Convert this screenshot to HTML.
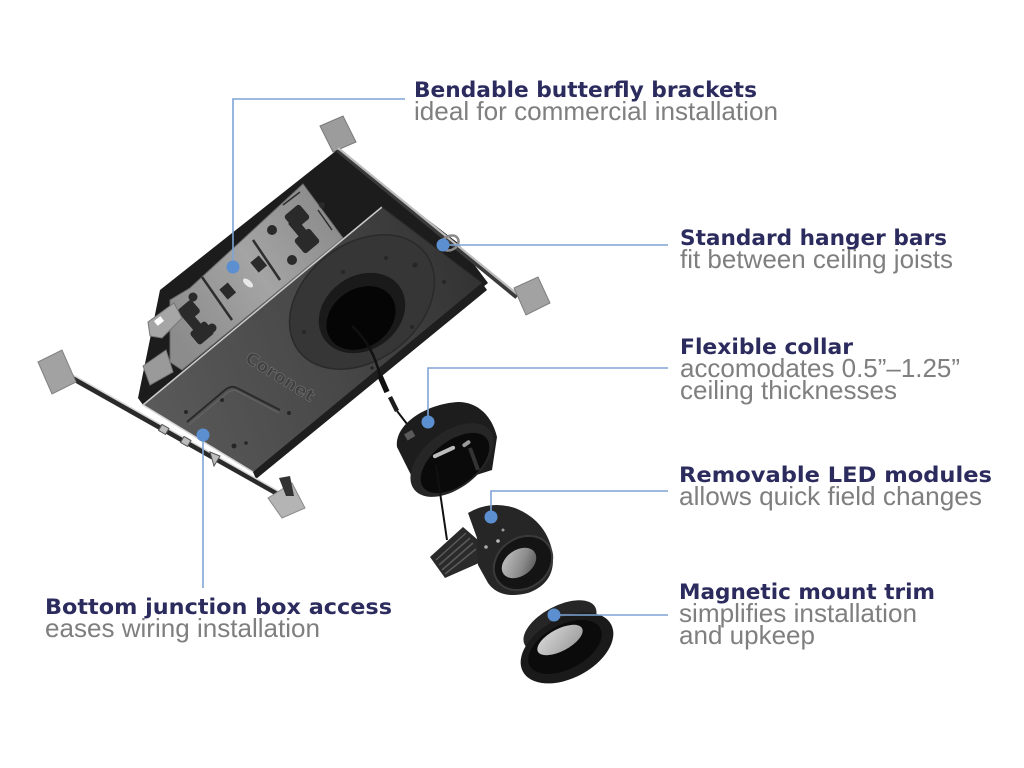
<!DOCTYPE html>
<html><head><meta charset="utf-8">
<style>
html,body{margin:0;padding:0;background:#fff;}
svg{display:block;}
.t{font-family:"DejaVu Sans","Liberation Sans",sans-serif;font-weight:bold;font-size:21px;fill:#2c2b5e;}
.s{font-family:"Liberation Sans",Arial,sans-serif;font-size:26px;fill:#7f7f7f;}
</style></head><body>
<svg width="1024" height="768" viewBox="0 0 1024 768" xmlns="http://www.w3.org/2000/svg">
<defs>
<linearGradient id="plate" x1="143" y1="405" x2="482" y2="283" gradientUnits="userSpaceOnUse">
<stop offset="0" stop-color="#5a5a5a"/><stop offset="0.55" stop-color="#474747"/><stop offset="1" stop-color="#333"/>
</linearGradient>
<linearGradient id="panel" x1="172" y1="330" x2="340" y2="210" gradientUnits="userSpaceOnUse">
<stop offset="0" stop-color="#8c8c8c"/><stop offset="0.5" stop-color="#a4a4a4"/><stop offset="1" stop-color="#8a8a8a"/>
</linearGradient>
<linearGradient id="lens" x1="0" y1="0" x2="1" y2="1">
<stop offset="0" stop-color="#c8c8c8"/><stop offset="0.6" stop-color="#8a8a8a"/><stop offset="1" stop-color="#4a4a4a"/>
</linearGradient>
<linearGradient id="lens2" x1="0" y1="0" x2="1" y2="1">
<stop offset="0" stop-color="#d8d8d8"/><stop offset="1" stop-color="#9a9a9a"/>
</linearGradient>
</defs>

<!-- top hanger bar tab (behind) -->
<polygon points="320,126 343,116 356,142 333,152" fill="#9c9c9c" stroke="#7a7a7a" stroke-width="1"/>

<!-- box back (black) -->
<polygon points="160,290 337,150 458,243 488,283 253,472 143,405 138,398" fill="#1c1c1c"/>

<!-- gray bracket panels -->
<polygon points="170,300 190,288 303,184 343,238 182,370 170,362" fill="url(#panel)" stroke="#6a6a6a" stroke-width="1"/>
<line x1="202" y1="277" x2="232" y2="320" stroke="#2e2e2e" stroke-width="2.5"/>
<line x1="253" y1="240" x2="280" y2="280" stroke="#2e2e2e" stroke-width="2.5"/>
<g fill="#2a2a2a">
<rect x="287" y="208" width="20" height="18" rx="3" transform="rotate(-40 297 217)"/>
<rect x="297" y="232" width="20" height="18" rx="3" transform="rotate(-40 307 241)"/>
<rect x="294" y="218" width="10" height="22" transform="rotate(-40 299 229)"/>
<circle cx="272" cy="230" r="5"/>
<circle cx="292" cy="260" r="5"/>
<circle cx="322" cy="205" r="3"/>
<rect x="253" y="258" width="11" height="13" transform="rotate(-40 258 264)"/>
<rect x="222" y="285" width="11" height="13" transform="rotate(-40 227 291)"/>
<rect x="180" y="303" width="18" height="16" rx="3" transform="rotate(-40 189 311)"/>
<rect x="192" y="325" width="20" height="16" rx="3" transform="rotate(-40 202 333)"/>
<rect x="188" y="312" width="10" height="20" transform="rotate(-40 193 322)"/>
<circle cx="193" cy="297" r="4.5"/>
<circle cx="212" cy="328" r="4.5"/>
</g>
<path d="M283,205 L300,192 M318,210 L332,230" stroke="#2e2e2e" stroke-width="1.5" fill="none"/>
<ellipse cx="248" cy="283" rx="6" ry="3" fill="#e8e8e8" transform="rotate(40 248 283)"/>
<!-- left bracket tabs -->
<polygon points="148,322 174,303 182,318 162,338 150,336" fill="#a6a6a6" stroke="#777" stroke-width="1"/>
<rect x="155" y="318" width="8" height="6" fill="#fff" transform="rotate(-38 159 321)"/>
<polygon points="143,366 166,350 173,372 150,385" fill="#9a9a9a" stroke="#777" stroke-width="1"/>

<!-- front plate -->
<polygon points="143,405 382,207 482,283 253,472" fill="url(#plate)"/>
<polygon points="482,283 253,472 256,479 487,290" fill="#1e1e1e"/>
<line x1="143" y1="405" x2="382" y2="207" stroke="#c9c9c9" stroke-width="1.6"/>
<line x1="382" y1="207" x2="482" y2="283" stroke="#2a2a2a" stroke-width="1.2"/>
<line x1="143" y1="405" x2="253" y2="472" stroke="#d4d4d4" stroke-width="1.5"/>

<!-- raised disc -->
<ellipse cx="362" cy="302" rx="80" ry="58" transform="rotate(-38 362 302)" fill="#363636" stroke="#2a2a2a" stroke-width="1.5"/>
<ellipse cx="362" cy="313" rx="46" ry="37" transform="rotate(-35 362 313)" fill="#1a1a1a"/>
<ellipse cx="361" cy="318" rx="37" ry="29" transform="rotate(-35 361 318)" fill="#050505"/>

<g fill="#262626">
<circle cx="415" cy="265" r="2.5"/><circle cx="444" cy="282" r="2"/><circle cx="304" cy="332" r="2"/>
<circle cx="343" cy="272" r="2"/><circle cx="412" cy="327" r="2"/><circle cx="222" cy="400" r="2"/>
<circle cx="234" cy="446" r="2.5"/><circle cx="246" cy="443" r="1.8"/><circle cx="289" cy="413" r="2"/>
<circle cx="186" cy="412" r="2"/><circle cx="372" cy="368" r="1.8"/><circle cx="386" cy="258" r="2"/>
</g>
<text x="0" y="0" transform="translate(244,361) rotate(32)" font-family="DejaVu Sans, sans-serif" font-weight="bold" font-size="17" textLength="78" lengthAdjust="spacingAndGlyphs" fill="#3f3f3f" stroke="#6c6c6c" stroke-width="0.7">Coronet</text>
<path d="M187,422 L225,390 Q231,385 237,388 L280,410" stroke="#2a2a2a" stroke-width="2" fill="none"/>
<path d="M189,425 L227,393 Q232,389 237,391 L279,413" stroke="#666" stroke-width="1" fill="none"/>

<!-- bottom hanger bar -->
<line x1="72" y1="378" x2="294" y2="503" stroke="#2a2a2a" stroke-width="5"/>
<line x1="73" y1="375" x2="294" y2="500" stroke="#d8d8d8" stroke-width="1.5"/>
<polygon points="38,362 62,350 76,382 52,394" fill="#a2a2a2" stroke="#808080" stroke-width="1"/>
<polygon points="268,498 292,483 305,508 282,518" fill="#b4b4b4" stroke="#8a8a8a" stroke-width="1"/>
<polygon points="279,478 290,476 294,496 286,496" fill="#333"/>
<g fill="#bcbcbc" stroke="#555" stroke-width="1">
<rect x="160" y="426" width="8" height="7" transform="rotate(30 164 429)"/>
<rect x="182" y="438" width="8" height="7" transform="rotate(30 186 441)"/>
<polygon points="210,452 220,456 214,466"/>
</g>

<!-- top hanger bar -->
<line x1="338" y1="150" x2="517" y2="297" stroke="#3a3a3a" stroke-width="5"/>
<line x1="338" y1="148" x2="517" y2="294" stroke="#bdbdbd" stroke-width="2.2"/>
<ellipse cx="450" cy="243" rx="9" ry="7" transform="rotate(-30 450 243)" fill="none" stroke="#8a8a8a" stroke-width="2.5"/>
<polygon points="514,288 538,277 550,303 526,315" fill="#a2a2a2" stroke="#7e7e7e" stroke-width="1"/>

<!-- wire -->
<path d="M352,326 Q373,345 380,376" stroke="#111" stroke-width="2.5" fill="none"/>
<line x1="380" y1="376" x2="387" y2="392" stroke="#111" stroke-width="5.5"/>
<line x1="390" y1="397" x2="397" y2="411" stroke="#1c1c1c" stroke-width="4.5"/>
<line x1="397" y1="411" x2="414" y2="433" stroke="#111" stroke-width="2"/>

<!-- collar -->
<path d="M397,447 C394,425 425,404 458,402 C478,402 492,416 497,437 L492,470 L420,493 Z" fill="#1d1d1d"/>
<ellipse cx="452" cy="460" rx="48" ry="28" transform="rotate(-38 452 460)" fill="#262626"/>
<ellipse cx="455" cy="463" rx="40" ry="22" transform="rotate(-38 455 463)" fill="#0a0a0a"/>
<rect x="432" y="450" width="24" height="4" rx="2" fill="#bdbdbd" transform="rotate(-25 444 452)"/>
<rect x="462" y="442" width="9" height="4" rx="2" fill="#9a9a9a" transform="rotate(-35 466 444)"/>
<rect x="405" y="432" width="9" height="7" fill="#5a5a5a" transform="rotate(-30 409 435)"/>
<line x1="470" y1="448" x2="478" y2="470" stroke="#333" stroke-width="4"/>
<line x1="436" y1="465" x2="447" y2="540" stroke="#111" stroke-width="2"/>

<!-- LED module -->
<polygon points="430,557 463,527 478,540 479,563 445,578" fill="#2a2a2a"/>
<g stroke="#5a5a5a" stroke-width="1.5">
<line x1="436" y1="560" x2="466" y2="533"/>
<line x1="439" y1="565" x2="470" y2="538"/>
<line x1="442" y1="570" x2="473" y2="543"/>
<line x1="445" y1="574" x2="476" y2="549"/>
</g>
<path d="M468,513 Q490,500 515,508 Q545,520 552,550 Q558,582 528,593 Q500,600 488,583 L478,565 L477,538 Z" fill="#262626"/>
<ellipse cx="523" cy="563" rx="31" ry="25" transform="rotate(-35 523 563)" fill="#141414" stroke="#3a3a3a" stroke-width="2"/>
<ellipse cx="519" cy="563" rx="19" ry="13" transform="rotate(-35 519 563)" fill="url(#lens)"/>
<circle cx="498" cy="541" r="1.8" fill="#bbb"/><circle cx="486" cy="547" r="1.8" fill="#aaa"/>
<circle cx="503" cy="530" r="1.5" fill="#999"/>

<!-- trim -->
<ellipse cx="560" cy="626" rx="40" ry="20" transform="rotate(-28 560 626)" fill="#262626"/>
<ellipse cx="567" cy="648" rx="50" ry="30" transform="rotate(-28 567 648)" fill="#1a1a1a"/>
<ellipse cx="565" cy="647" rx="40" ry="22" transform="rotate(-28 565 647)" fill="#0b0b0b"/>
<ellipse cx="560" cy="640" rx="25" ry="11" transform="rotate(-28 560 640)" fill="url(#lens2)"/>

<!-- callout lines -->
<g stroke="#7ea4d6" stroke-width="1.6" fill="none">
<polyline points="405,99 233,99 233,267"/>
<line x1="443" y1="245" x2="668" y2="245"/>
<polyline points="668,368 428,368 428,422"/>
<polyline points="668,491 491,491 491,517"/>
<line x1="554" y1="615" x2="668" y2="615"/>
<line x1="203" y1="435" x2="203" y2="588"/>
</g>
<g fill="#5b8fd0">
<circle cx="233" cy="267" r="6.5"/>
<circle cx="443" cy="245" r="6.5"/>
<circle cx="428" cy="422" r="6.5"/>
<circle cx="491" cy="517" r="6.5"/>
<circle cx="554" cy="615" r="6.5"/>
<circle cx="203" cy="435" r="6.5"/>
</g>

<!-- labels -->
<text class="t" x="414" y="97" textLength="343" lengthAdjust="spacingAndGlyphs">Bendable butterfly brackets</text>
<text class="s" x="414" y="120" textLength="364" lengthAdjust="spacingAndGlyphs">ideal for commercial installation</text>

<text class="t" x="680" y="245" textLength="267" lengthAdjust="spacingAndGlyphs">Standard hanger bars</text>
<text class="s" x="680" y="268" textLength="273" lengthAdjust="spacingAndGlyphs">fit between ceiling joists</text>

<text class="t" x="680" y="354" textLength="173" lengthAdjust="spacingAndGlyphs">Flexible collar</text>
<text class="s" x="680" y="377" textLength="280" lengthAdjust="spacingAndGlyphs">accomodates 0.5”–1.25”</text>
<text class="s" x="680" y="399" textLength="217" lengthAdjust="spacingAndGlyphs">ceiling thicknesses</text>

<text class="t" x="679" y="482" textLength="313" lengthAdjust="spacingAndGlyphs">Removable LED modules</text>
<text class="s" x="679" y="505" textLength="303" lengthAdjust="spacingAndGlyphs">allows quick field changes</text>

<text class="t" x="679" y="599" textLength="256" lengthAdjust="spacingAndGlyphs">Magnetic mount trim</text>
<text class="s" x="679" y="622" textLength="238" lengthAdjust="spacingAndGlyphs">simplifies installation</text>
<text class="s" x="679" y="644" textLength="136" lengthAdjust="spacingAndGlyphs">and upkeep</text>

<text class="t" x="45" y="614" textLength="347" lengthAdjust="spacingAndGlyphs">Bottom junction box access</text>
<text class="s" x="45" y="637" textLength="275" lengthAdjust="spacingAndGlyphs">eases wiring installation</text>
</svg>
</body></html>
